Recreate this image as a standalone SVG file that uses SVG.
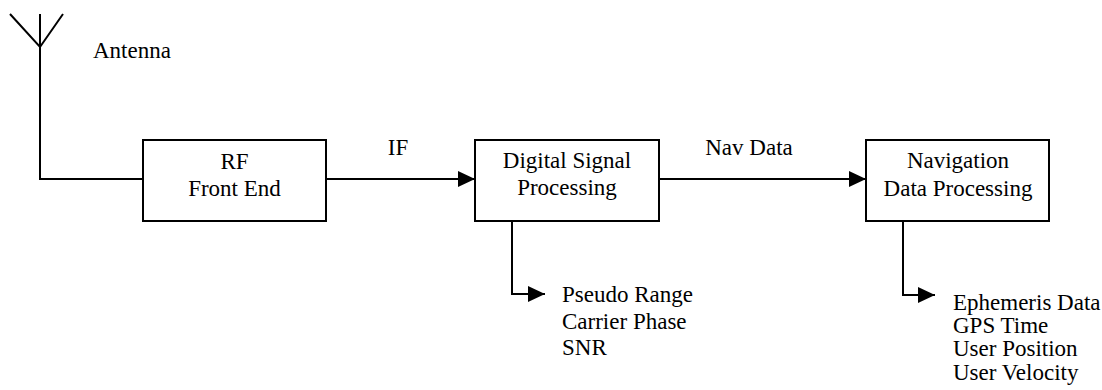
<svg xmlns="http://www.w3.org/2000/svg" width="1102" height="390" viewBox="0 0 1102 390">
  <style>
    .box { fill: #fff; stroke: #000; stroke-width: 2; }
    .wire { fill: none; stroke: #000; stroke-width: 2; }
    text { font-size: 23px; fill: #000; }
    .c { text-anchor: middle; }
  </style>
  <defs>
    <marker id="arrow" markerUnits="userSpaceOnUse" markerWidth="18" markerHeight="16" refX="17" refY="8" orient="auto">
      <path d="M0,0 L17,8 L0,16 Z" fill="#000"/>
    </marker>
  </defs>

  <g font-family="'Liberation Serif', 'Times New Roman', Times, serif">
  <!-- antenna symbol -->
  <g id="antenna">
    <path class="wire" d="M10,14 L40,47 L63,14 M40,14 L40,47"/>
    <text x="93" y="58">Antenna</text>
  </g>

  <g id="rf-front-end">
    <rect class="box" x="143" y="140" width="183" height="81"/>
    <text class="c" x="234.5" y="169">RF</text>
    <text class="c" x="234.5" y="196">Front End</text>
  </g>

  <g id="digital-signal-processing">
    <rect class="box" x="475" y="140" width="184" height="81"/>
    <text class="c" x="567" y="168">Digital Signal</text>
    <text class="c" x="567" y="195">Processing</text>
  </g>

  <g id="navigation-data-processing">
    <rect class="box" x="866" y="140" width="183" height="81"/>
    <text class="c" x="958" y="168">Navigation</text>
    <text class="c" x="958" y="196">Data Processing</text>
  </g>

  <g id="dsp-outputs">
    <text x="562" y="302">Pseudo Range</text>
    <text x="562" y="329">Carrier Phase</text>
    <text x="562" y="355">SNR</text>
  </g>

  <g id="nav-outputs">
    <text x="953" y="310">Ephemeris Data</text>
    <text x="953" y="333">GPS Time</text>
    <text x="953" y="356">User Position</text>
    <text x="953" y="380">User Velocity</text>
  </g>

  <g id="connectors">
    <path class="wire" d="M40,47 L40,179 L143,179"/>
    <path class="wire" d="M326,179 L475,179" marker-end="url(#arrow)"/>
    <text class="c" x="398" y="155">IF</text>
    <path class="wire" d="M659,179 L866,179" marker-end="url(#arrow)"/>
    <text class="c" x="749" y="155">Nav Data</text>
    <path class="wire" d="M512,221 L512,294 L545,294" marker-end="url(#arrow)"/>
    <path class="wire" d="M903,221 L903,295 L935,295" marker-end="url(#arrow)"/>
  </g>
  </g>
</svg>
